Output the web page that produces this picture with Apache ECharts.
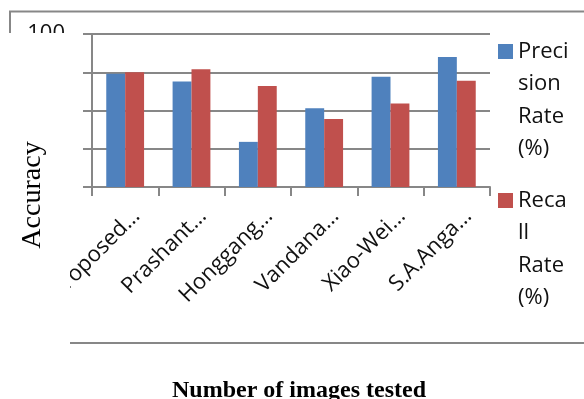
<!DOCTYPE html>
<html>
<head>
<meta charset="utf-8">
<script src="https://cdn.jsdelivr.net/npm/echarts@6/dist/echarts.min.js"></script>
<style>
  html, body { margin: 0; padding: 0; background: #fff; }
  #chart { width: 584px; height: 399px; }
</style>
</head>
<body>
<div id="chart"></div>
<script>
// Method names (truncated as in the original figure)
const categories = ['Proposed…', 'Prashant…', 'Honggang…', 'Vandana…', 'Xiao-Wei…', 'S.A.Anga…'];
const precisionRate = [94.8, 93.8, 85.9, 90.3, 94.4, 97.0];
const recallRate = [95.0, 95.4, 93.2, 88.9, 90.9, 93.9];
const seriesNames = ['Precision Rate (%)', 'Recall Rate (%)'];
const legendLines = ['Preci\nsion\nRate\n(%)', 'Reca\nll\nRate\n(%)'];
const yMin = 80, yMax = 100, yStep = 5;

const gray = '#878787';
const sans = '"Open Sans", "DejaVu Sans", sans-serif';
const serif = '"Liberation Serif", "Times New Roman", serif';

// Square marker sitting at the top of a tall legend slot so it lines up with the first text line
const legendIcon = 'path://M0,0M0,9L15,9L15,24L0,24ZM15,130';

const chart = echarts.init(document.getElementById('chart'), null, { renderer: 'canvas' });
chart.setOption({
  animation: false,
  backgroundColor: '#fff',
  grid: { left: 92, right: 94, top: 34, bottom: 212, containLabel: false, outerBoundsMode: 'none' },
  title: {
    text: 'Number of images tested',
    left: 294, top: 374, textAlign: 'center',
    textStyle: { fontFamily: serif, fontWeight: 'bold', fontSize: 24, color: '#000' }
  },
  legend: {
    orient: 'vertical',
    left: 498, top: 35, padding: 0,
    itemWidth: 15, itemHeight: 130, itemGap: 19,
    icon: legendIcon,
    data: seriesNames,
    formatter: name => legendLines[seriesNames.indexOf(name)],
    textStyle: { fontFamily: sans, fontSize: 22, lineHeight: 32.5, color: '#111' },
    itemStyle: { borderWidth: 0 }
  },
  xAxis: {
    type: 'category',
    data: categories,
    axisLine: { lineStyle: { color: gray, width: 2 } },
    axisTick: { show: true, alignWithLabel: false, length: 9, lineStyle: { color: gray, width: 2 } },
    axisLabel: {
      interval: 0, rotate: 45, margin: 14.5,
      verticalAlign: 'top', lineHeight: 32,
      fontFamily: sans, fontSize: 22, color: '#111'
    },
    splitLine: { show: false }
  },
  yAxis: {
    type: 'value',
    min: yMin, max: yMax, interval: yStep,
    axisLine: { show: true, lineStyle: { color: gray, width: 2 } },
    axisTick: { show: true, length: 9, lineStyle: { color: gray, width: 2 } },
    axisLabel: { margin: 27, fontFamily: sans, fontSize: 22, color: '#111' },
    splitLine: { show: true, lineStyle: { color: gray, width: 2 } }
  },
  series: [
    {
      name: seriesNames[0], type: 'bar', data: precisionRate,
      barGap: '0%', barCategoryGap: '43%',
      itemStyle: { color: '#4F81BD' }
    },
    {
      name: seriesNames[1], type: 'bar', data: recallRate,
      barGap: '0%', barCategoryGap: '43%',
      itemStyle: { color: '#C0504D' }
    }
  ],
  graphic: [
    {
      type: 'rect', z: 50, silent: true,
      shape: { x: 10, y: 11.5, width: 640, height: 331.5 },
      style: { fill: null, stroke: gray, lineWidth: 2 }
    },
    {
      type: 'rect', z: 100, silent: true,
      shape: { x: 0, y: 33, width: 70, height: 366 },
      style: { fill: '#fff' }
    },
    {
      type: 'text', z: 101, silent: true,
      x: 33, y: 195, rotation: Math.PI / 2,
      style: {
        text: 'Accuracy', x: 0, y: 0, align: 'center', verticalAlign: 'middle',
        fontFamily: serif, fontSize: 28, fill: '#000'
      }
    }
  ]
});
</script>
</body>
</html>
